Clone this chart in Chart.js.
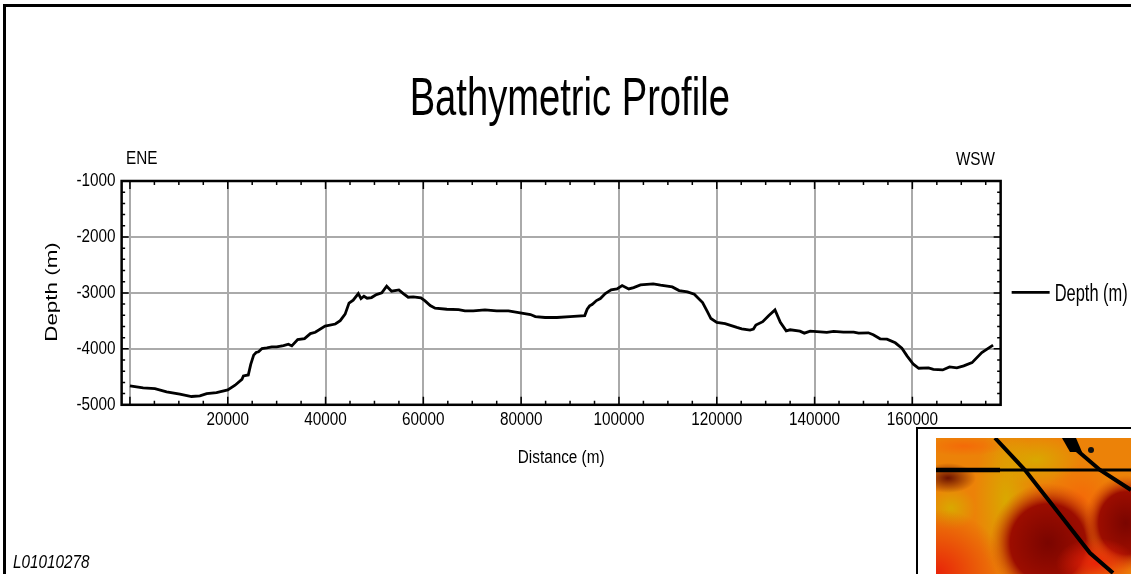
<!DOCTYPE html>
<html>
<head>
<meta charset="utf-8">
<title>Bathymetric Profile</title>
<script src="https://cdn.jsdelivr.net/npm/chart.js@4"></script>
<style>
    html, body { margin: 0; padding: 0; background: #fff; overflow: hidden; }
    #page { position: relative; width: 1131px; height: 574px; overflow: hidden; }
    #grafica { position: absolute; left: 0; top: 0; }
    #marco { position: absolute; left: 3px; top: 4px; width: 1128px; height: 570px; border-top: 3px solid #000; border-left: 3px solid #000; box-sizing: border-box; }
    #inset { position: absolute; left: 916px; top: 427px; width: 215px; height: 147px; border-top: 2px solid #000; border-left: 2px solid #000; box-sizing: border-box; background: #fff; }
    #mapa { position: absolute; left: 18px; top: 9px; width: 195px; height: 136px; display: block; }
</style>
</head>
<body>
<div id="page">
    <canvas id="grafica" width="1131" height="574"></canvas>
    <div id="marco"></div>
    <div id="inset">
        <svg id="mapa" viewBox="0 0 195 136">
            <defs>
                <radialGradient id="rojo"><stop offset="0" stop-color="#7a0500"/><stop offset="0.65" stop-color="#9c0d00"/><stop offset="1" stop-color="#d84a08" stop-opacity="0"/></radialGradient>
                <radialGradient id="rojo2"><stop offset="0" stop-color="#e82208"/><stop offset="1" stop-color="#e82208" stop-opacity="0"/></radialGradient>
                <radialGradient id="oro"><stop offset="0" stop-color="#d9a800"/><stop offset="1" stop-color="#d9a800" stop-opacity="0"/></radialGradient>
                <radialGradient id="oscuro"><stop offset="0" stop-color="#6c1200"/><stop offset="1" stop-color="#6c1200" stop-opacity="0"/></radialGradient>
                <radialGradient id="naranja"><stop offset="0" stop-color="#f46a08"/><stop offset="1" stop-color="#f46a08" stop-opacity="0"/></radialGradient>
            </defs>
            <rect width="195" height="136" fill="#ec8208"/>
            <ellipse cx="70" cy="62" rx="32" ry="80" fill="url(#oro)"/>
            <ellipse cx="100" cy="22" rx="45" ry="25" fill="url(#oro)"/>
            <ellipse cx="15" cy="70" rx="25" ry="22" fill="url(#oro)"/>
            <ellipse cx="0" cy="136" rx="70" ry="65" fill="url(#rojo2)"/>
            <ellipse cx="145" cy="60" rx="35" ry="35" fill="url(#naranja)"/>
            <ellipse cx="112" cy="105" rx="58" ry="60" fill="url(#rojo)"/>
            <ellipse cx="190" cy="85" rx="42" ry="48" fill="url(#rojo)"/>
            <ellipse cx="160" cy="125" rx="40" ry="25" fill="url(#rojo2)"/>
            <ellipse cx="12" cy="40" rx="28" ry="15" fill="url(#oscuro)"/>
            <ellipse cx="28" cy="8" rx="40" ry="10" fill="url(#naranja)"/>
            <path d="M0 32 H195" stroke="#000" stroke-width="3" fill="none"/>
            <path d="M0 32 H64" stroke="#000" stroke-width="4.5" fill="none"/>
            <path d="M59 0 L89 32 L154 115 L177 135" stroke="#000" stroke-width="4" fill="none"/>
            <path d="M136 8 L164 32 L195 52" stroke="#000" stroke-width="4" fill="none"/>
            <path d="M126 0 L140 0 L146 14 L134 14 Z" fill="#000"/>
            <circle cx="155" cy="12" r="3" fill="#111"/>
        </svg>
    </div>
</div>

<script>
const distancias = [0,2700,5100,7500,10200,12600,14300,15700,17700,20000,21500,22900,23200,24200,24700,25300,25800,26300,27000,28000,29000,30000,31400,32400,33100,34300,35700,36900,37900,39900,42000,43000,44000,44800,45650,46700,47250,47850,48500,49400,50400,51500,52500,53500,55000,55900,56900,57950,59500,60350,61400,62400,64800,67200,68500,70200,72600,75000,77400,79800,81900,82900,84900,87300,90000,93000,93500,94000,94500,95400,96200,97200,98400,99600,100650,102000,103000,104400,107000,108500,110900,112300,114000,115400,117100,118000,118800,120000,121700,124100,125100,126800,127500,128000,129400,130600,131900,133000,134200,135000,137000,137900,139100,142500,143900,145900,148000,149000,151000,152000,153400,154800,156500,157850,158900,160200,161300,163300,164300,166200,167600,169100,170500,172200,174200,176500];
const profundidades = [-4663,-4698,-4710,-4769,-4811,-4852,-4840,-4799,-4781,-4734,-4650,-4544,-4485,-4467,-4278,-4112,-4065,-4053,-3994,-3982,-3965,-3965,-3941,-3917,-3947,-3834,-3817,-3728,-3704,-3592,-3556,-3497,-3379,-3183,-3131,-3012,-3101,-3060,-3095,-3083,-3030,-3000,-2881,-2970,-2946,-3012,-3077,-3071,-3089,-3143,-3226,-3274,-3292,-3298,-3321,-3321,-3304,-3321,-3321,-3357,-3387,-3423,-3440,-3440,-3423,-3405,-3292,-3232,-3208,-3137,-3101,-3012,-2946,-2929,-2869,-2929,-2905,-2857,-2839,-2863,-2893,-2958,-2982,-3024,-3173,-3321,-3458,-3527,-3551,-3617,-3641,-3665,-3647,-3575,-3515,-3407,-3305,-3527,-3677,-3659,-3683,-3719,-3683,-3707,-3689,-3701,-3701,-3719,-3713,-3749,-3820,-3826,-3892,-3988,-4126,-4275,-4347,-4341,-4365,-4377,-4323,-4341,-4305,-4246,-4066,-3934];

const xTicks = [0,20000,40000,60000,80000,100000,120000,140000,160000];
const xMinor = [5000,10000,15000,25000,30000,35000,45000,50000,55000,65000,70000,75000,85000,90000,95000,105000,110000,115000,125000,130000,135000,145000,150000,155000,165000,170000,175000];
const yTicks = [-5000,-4000,-3000,-2000,-1000];
const yMinor = [-4800,-4600,-4400,-4200,-3800,-3600,-3400,-3200,-2800,-2600,-2400,-2200,-1800,-1600,-1400,-1200];

const fuente = '"Liberation Sans", sans-serif';

// No hay fuente angosta instalada: se comprime el texto en el mismo contexto
// para que titulo, ticks y leyenda de Chart.js salgan angostos
const canvas = document.getElementById("grafica");
const lienzo = canvas.getContext("2d");
const fillTextOriginal = lienzo.fillText.bind(lienzo);
const measureOriginal = lienzo.measureText.bind(lienzo);
function factorTexto(t) {
    if (t === "Bathymetric Profile") return 0.72;
    if (t === "Depth (m)") return 0.715;
    return 0.85;
}
lienzo.fillText = function (t, x, y) {
    lienzo.save();
    // el texto de la leyenda va mas pegado a la linea
    if (t === "Depth (m)") lienzo.translate(x - 6.5, y + 2);
    else lienzo.translate(x, y);
    lienzo.scale(factorTexto(t), 1);
    fillTextOriginal(t, 0, 0);
    lienzo.restore();
};
lienzo.measureText = function (t) {
    return { width: measureOriginal(t).width * factorTexto(t) };
};

// ticks hacia adentro, marco del area y textos sueltos
const extras = {
    id: "extras",
    afterLayout(chart) {
        // la leyenda va centrada sobre el area de la grafica
        const l = chart.legend;
        const a = chart.chartArea;
        const dy = (a.top + a.bottom) / 2 - (l.top + l.bottom) / 2 - 0.5;
        l.top += dy;
        l.bottom += dy;
        l.left += 10.25;
        l.right += 10.25;
        // el titulo no va centrado en el espacio libre
        chart.titleBlock.left -= 32.5;
        chart.titleBlock.right -= 32.5;
    },
    afterDatasetsDraw(chart) {
        const ctx = chart.ctx;
        const a = chart.chartArea;
        const x = chart.scales.x;
        const y = chart.scales.y;

        ctx.save();
        ctx.strokeStyle = "#000";
        ctx.lineWidth = 1.5;
        ctx.beginPath();
        for (const [lista, largo] of [[xTicks, 8], [xMinor, 4]]) {
            for (const v of lista) {
                const px = x.getPixelForValue(v);
                ctx.moveTo(px, a.top); ctx.lineTo(px, a.top + largo);
                ctx.moveTo(px, a.bottom); ctx.lineTo(px, a.bottom - largo);
            }
        }
        for (const [lista, largo] of [[yTicks, 7], [yMinor, 3.5]]) {
            for (const v of lista) {
                const py = y.getPixelForValue(v);
                ctx.moveTo(a.left, py); ctx.lineTo(a.left + largo, py);
                ctx.moveTo(a.right, py); ctx.lineTo(a.right - largo, py);
            }
        }
        ctx.stroke();

        ctx.lineWidth = 2.5;
        ctx.strokeRect(a.left, a.top, a.right - a.left, a.bottom - a.top);

        ctx.fillStyle = "#000";
        ctx.textBaseline = "middle";
        ctx.textAlign = "left";
        ctx.font = "18px " + fuente;
        ctx.fillText("ENE", 126, 159);
        ctx.textAlign = "right";
        ctx.fillText("WSW", 995, 160);
        ctx.textAlign = "left";
        ctx.font = "italic 18px " + fuente;
        ctx.fillText("L01010278", 13, 563);

        // el titulo del eje Y sale ensanchado en el original
        ctx.translate(53, 292);
        ctx.rotate(-Math.PI / 2);
        ctx.scale(1.4, 1);
        ctx.textAlign = "center";
        ctx.font = "16px " + fuente;
        fillTextOriginal("Depth (m)", 0, 0);
        ctx.restore();
    }
};

const config = {
    type: "line",
    data: {
        datasets: [{
            label: "Depth (m)",
            data: distancias.map((d, i) => ({ x: d, y: profundidades[i] })),
            borderColor: "#000",
            backgroundColor: "#000",
            borderWidth: 2.8,
            pointRadius: 0,
            tension: 0
        }]
    },
    options: {
        responsive: false,
        animation: false,
        layout: { padding: { left: 70.5, top: 69, bottom: 105, right: -3 } },
        plugins: {
            title: {
                display: true,
                text: "Bathymetric Profile",
                color: "#000",
                font: { family: fuente, size: 53, weight: "normal" },
                padding: { top: 0, bottom: 48.4 }
            },
            legend: {
                position: "right",
                labels: {
                    color: "#000",
                    boxWidth: 38,
                    boxHeight: 0,
                    padding: 0.75,
                    font: { family: fuente, size: 23 }
                }
            },
            tooltip: { enabled: false }
        },
        scales: {
            x: {
                type: "linear",
                min: -1700,
                max: 178050,
                afterBuildTicks(scale) { scale.ticks = xTicks.map(v => ({ value: v })); },
                grid: { color: "#aaaaaa", lineWidth: 2, drawTicks: false },
                border: { display: false },
                ticks: {
                    color: "#000",
                    padding: 4.5,
                    maxRotation: 0,
                    font: { family: fuente, size: 18 },
                    callback: v => (v === 0 ? "" : String(v))
                },
                title: {
                    display: true,
                    text: "Distance (m)",
                    color: "#000",
                    font: { family: fuente, size: 18 },
                    padding: { top: 12, bottom: 0 }
                }
            },
            y: {
                type: "linear",
                min: -5000,
                max: -1000,
                afterBuildTicks(scale) { scale.ticks = yTicks.map(v => ({ value: v })); },
                grid: { color: "#aaaaaa", lineWidth: 2, drawTicks: false },
                border: { display: false },
                ticks: {
                    color: "#000",
                    padding: 6,
                    font: { family: fuente, size: 18 },
                    callback: v => String(v)
                }
            }
        }
    },
    plugins: [extras]
};

new Chart(canvas, config);
</script>
</body>
</html>
